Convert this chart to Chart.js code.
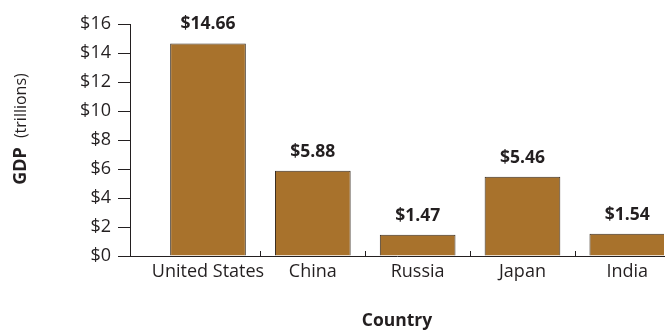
<!DOCTYPE html>
<html>
<head>
<meta charset="utf-8">
<script src="https://cdn.jsdelivr.net/npm/chart.js@4.4.1/dist/chart.umd.min.js"></script>
<style>
  html, body { margin: 0; padding: 0; background: #fff; }
  #wrap { width: 671px; height: 332px; }
</style>
</head>
<body>
<div id="wrap"><canvas id="myChart" width="671" height="332"></canvas></div>
<script>
const countries = ["United States", "China", "Russia", "Japan", "India"];
const gdp = [14.66, 5.88, 1.47, 5.46, 1.54];
const yTicks = [0, 2, 4, 6, 8, 10, 12, 14, 16];

const ink = "#231f20";
const barColor = "rgb(168,114,44)";
const fontFamily = "'Open Sans', 'Noto Sans', sans-serif";

// value labels above each bar
const valueLabels = {
    id: "valueLabels",
    afterDatasetsDraw(chart) {
        const ctx = chart.ctx;
        const meta = chart.getDatasetMeta(0);
        ctx.save();
        ctx.font = "bold 17.5px " + fontFamily;
        ctx.fillStyle = ink;
        ctx.textAlign = "center";
        ctx.textBaseline = "middle";
        meta.data.forEach((bar, i) => {
            ctx.fillText("$" + gdp[i].toFixed(2), bar.x, bar.y - 19);
        });
        ctx.restore();
    }
};

// short marks between categories + two-weight y title
const axisExtras = {
    id: "axisExtras",
    afterDraw(chart) {
        const ctx = chart.ctx;
        const x = chart.scales.x;
        const area = chart.chartArea;
        ctx.save();
        ctx.strokeStyle = ink;
        ctx.lineWidth = 1;
        for (let i = 0; i < countries.length - 1; i++) {
            const px = Math.round(x.getPixelForValue(i + 0.5)) + 0.5;
            ctx.beginPath();
            ctx.moveTo(px, area.bottom);
            ctx.lineTo(px, area.bottom - 5);
            ctx.stroke();
        }

        const boldFont = "bold 18px " + fontFamily;
        const thinFont = "16px " + fontFamily;
        ctx.font = boldFont;
        const w1 = ctx.measureText("GDP").width;
        ctx.font = thinFont;
        const w2 = ctx.measureText("(trillions)").width;
        const gap = 9;
        const total = w1 + gap + w2;
        ctx.translate(21, 129);
        ctx.rotate(-Math.PI / 2);
        ctx.fillStyle = ink;
        ctx.textBaseline = "middle";
        ctx.textAlign = "left";
        ctx.font = boldFont;
        ctx.fillText("GDP", -total / 2, 0);
        ctx.font = thinFont;
        ctx.fillText("(trillions)", -total / 2 + w1 + gap, 0);
        ctx.restore();
    }
};

const data = {
    datasets: [
        {
            data: gdp.map((v, i) => ({ x: i, y: v })),
            backgroundColor: barColor,
            borderColor: "#3a2e22",
            borderWidth: 1,
            categoryPercentage: 1,
            barPercentage: 0.722,
        },
    ],
};

const config = {
    type: "bar",
    data: data,
    options: {
        responsive: false,
        animation: false,
        layout: { padding: { left: 0, right: 7, top: 24, bottom: 0 } },
        plugins: {
            legend: { display: false },
            tooltip: { enabled: false },
        },
        scales: {
            x: {
                type: "linear",
                offset: false,
                min: -0.744,
                max: 4.35,
                afterBuildTicks: (scale) => {
                    scale.ticks = countries.map((c, i) => ({ value: i }));
                },
                afterFit: (scale) => { scale.height = 76; },
                grid: { offset: false, drawOnChartArea: false, drawTicks: false },
                border: { color: ink, width: 1 },
                ticks: {
                    autoSkip: false,
                    maxRotation: 0,
                    padding: 5,
                    color: ink,
                    font: { family: fontFamily, size: 18 },
                    callback: (value) => countries[value],
                },
                title: {
                    display: true,
                    text: "Country",
                    color: ink,
                    font: { family: fontFamily, size: 17.5, weight: "bold" },
                    padding: { top: 0, bottom: 0 },
                },
            },
            y: {
                min: 0,
                max: 16,
                afterBuildTicks: (scale) => {
                    scale.ticks = yTicks.map((v) => ({ value: v }));
                },
                afterFit: (scale) => { scale.width = 130; },
                grid: { drawOnChartArea: false, drawTicks: true, tickLength: 12, color: ink },
                border: { color: ink, width: 1 },
                ticks: {
                    padding: 7,
                    color: ink,
                    font: { family: fontFamily, size: 18 },
                    callback: (value) => "$" + value,
                },
            },
        },
    },
    plugins: [valueLabels, axisExtras],
};

const myChart = new Chart(document.getElementById("myChart").getContext("2d"), config);
</script>
</body>
</html>
